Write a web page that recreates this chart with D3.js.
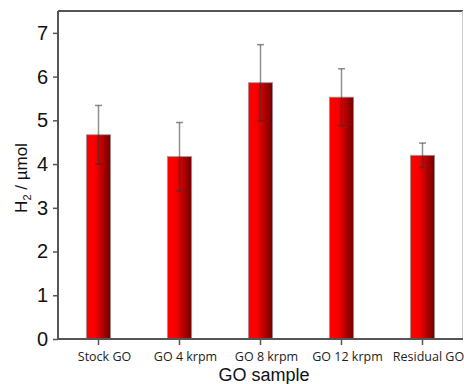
<!DOCTYPE html>
<html>
<head>
<meta charset="utf-8">
<script src="https://cdn.jsdelivr.net/npm/d3@7"></script>
<style>
  body { margin: 0; background: #fff; }
  svg { display: block; }
</style>
</head>
<body>
<svg></svg>
<script>
// samples and measured H2 (µmol) with error
var samples = ["Stock GO", "GO 4 krpm", "GO 8 krpm", "GO 12 krpm", "Residual GO"];
var h2 = [4.67, 4.17, 5.86, 5.53, 4.20];
var err = [0.67, 0.78, 0.87, 0.65, 0.28];
var yTicks = [0, 1, 2, 3, 4, 5, 6, 7];

var data = samples.map(function(s, i) {
  return { name: s, value: h2[i], err: err[i] };
});

var W = 464, H = 384;
var margins = { left: 58, right: 1, top: 11, bottom: 45 };
var width = W - margins.left - margins.right;
var height = H - margins.top - margins.bottom;

var svg = d3.select("svg")
            .attr("width", W)
            .attr("height", H);

var defs = svg.append("defs");
var grad = defs.append("linearGradient")
               .attr("id", "barGrad")
               .attr("x1", "0%").attr("x2", "100%")
               .attr("y1", "0%").attr("y2", "0%");
grad.append("stop").attr("offset", "0%").attr("stop-color", "#ff0000");
grad.append("stop").attr("offset", "35%").attr("stop-color", "#f80000");
grad.append("stop").attr("offset", "100%").attr("stop-color", "#6e0000");

var g = svg.append("g")
           .attr("transform", "translate(" + margins.left + "," + margins.top + ")");

var xScale = d3.scaleBand()
               .domain(samples)
               .range([0, width])
               .paddingInner(0.7)
               .paddingOuter(0.35);

var yScale = d3.scaleLinear()
               .domain([0, 7.5])
               .range([height, 0]);

// frame: top dark, right light
g.append("line")
 .attr("x1", 0).attr("x2", width)
 .attr("y1", 0).attr("y2", 0)
 .attr("stroke", "#555").attr("stroke-width", 2);
g.append("line")
 .attr("x1", width - 0.5).attr("x2", width - 0.5)
 .attr("y1", 0).attr("y2", height)
 .attr("stroke", "#ccc").attr("stroke-width", 1);

// bars
g.selectAll("rect.bar")
 .data(data)
 .enter()
 .append("rect")
 .attr("class", "bar")
 .attr("x", function(d) { return xScale(d.name); })
 .attr("y", function(d) { return yScale(d.value); })
 .attr("width", xScale.bandwidth())
 .attr("height", function(d) { return height - yScale(d.value); })
 .attr("fill", "url(#barGrad)")
 .attr("stroke", "#999")
 .attr("stroke-width", 0.8);

// error bars
var eb = g.selectAll("g.err")
          .data(data)
          .enter()
          .append("g")
          .attr("class", "err")
          .attr("stroke", "#333")
          .attr("stroke-opacity", 0.55)
          .attr("stroke-width", 1.5);
eb.append("line")
  .attr("x1", function(d) { return xScale(d.name) + xScale.bandwidth() / 2; })
  .attr("x2", function(d) { return xScale(d.name) + xScale.bandwidth() / 2; })
  .attr("y1", function(d) { return yScale(d.value + d.err); })
  .attr("y2", function(d) { return yScale(d.value - d.err); });
eb.append("line")
  .attr("x1", function(d) { return xScale(d.name) + xScale.bandwidth() / 2 - 3.5; })
  .attr("x2", function(d) { return xScale(d.name) + xScale.bandwidth() / 2 + 3.5; })
  .attr("y1", function(d) { return yScale(d.value + d.err); })
  .attr("y2", function(d) { return yScale(d.value + d.err); });
eb.append("line")
  .attr("x1", function(d) { return xScale(d.name) + xScale.bandwidth() / 2 - 3.5; })
  .attr("x2", function(d) { return xScale(d.name) + xScale.bandwidth() / 2 + 3.5; })
  .attr("y1", function(d) { return yScale(d.value - d.err); })
  .attr("y2", function(d) { return yScale(d.value - d.err); });

// axes
var yAxis = g.append("g")
             .call(d3.axisLeft(yScale).tickValues(yTicks).tickSize(5).tickPadding(5).tickSizeOuter(0));
yAxis.select(".domain").attr("stroke", "#555").attr("stroke-width", 2)
     .attr("d", "M0," + height + "V0");
yAxis.selectAll(".tick line").attr("stroke", "#555").attr("stroke-width", 1.5);
yAxis.selectAll(".tick text")
     .attr("font-family", "Liberation Sans, Arial, sans-serif")
     .attr("font-size", 20)
     .attr("fill", "#111");

var xAxis = g.append("g")
             .attr("transform", "translate(0," + height + ")")
             .call(d3.axisBottom(xScale).tickSize(6).tickPadding(7).tickSizeOuter(0));
xAxis.select(".domain").attr("stroke", "#555").attr("stroke-width", 2)
     .attr("d", "M0,0H" + width);
xAxis.selectAll(".tick line").attr("stroke", "#555").attr("stroke-width", 1.5);
xAxis.selectAll(".tick text")
     .attr("font-family", "Open Sans, sans-serif")
     .attr("font-size", 12.5)
     .attr("dx", 6)
     .attr("fill", "#222");

// axis titles
var ylab = svg.append("text")
              .attr("transform", "translate(27," + (margins.top + height / 2 + 3) + ") rotate(-90)")
              .attr("text-anchor", "middle")
              .attr("font-family", "Liberation Sans, Arial, sans-serif")
              .attr("font-size", 17)
              .attr("fill", "#111");
ylab.append("tspan").text("H");
ylab.append("tspan").attr("font-size", 11).attr("dy", 4).text("2");
ylab.append("tspan").attr("dy", -4).text(" / µmol");

svg.append("text")
   .attr("x", 264)
   .attr("y", 381)
   .attr("text-anchor", "middle")
   .attr("font-family", "Liberation Sans, Arial, sans-serif")
   .attr("font-size", 18)
   .attr("fill", "#111")
   .text("GO sample");
</script>
</body>
</html>
